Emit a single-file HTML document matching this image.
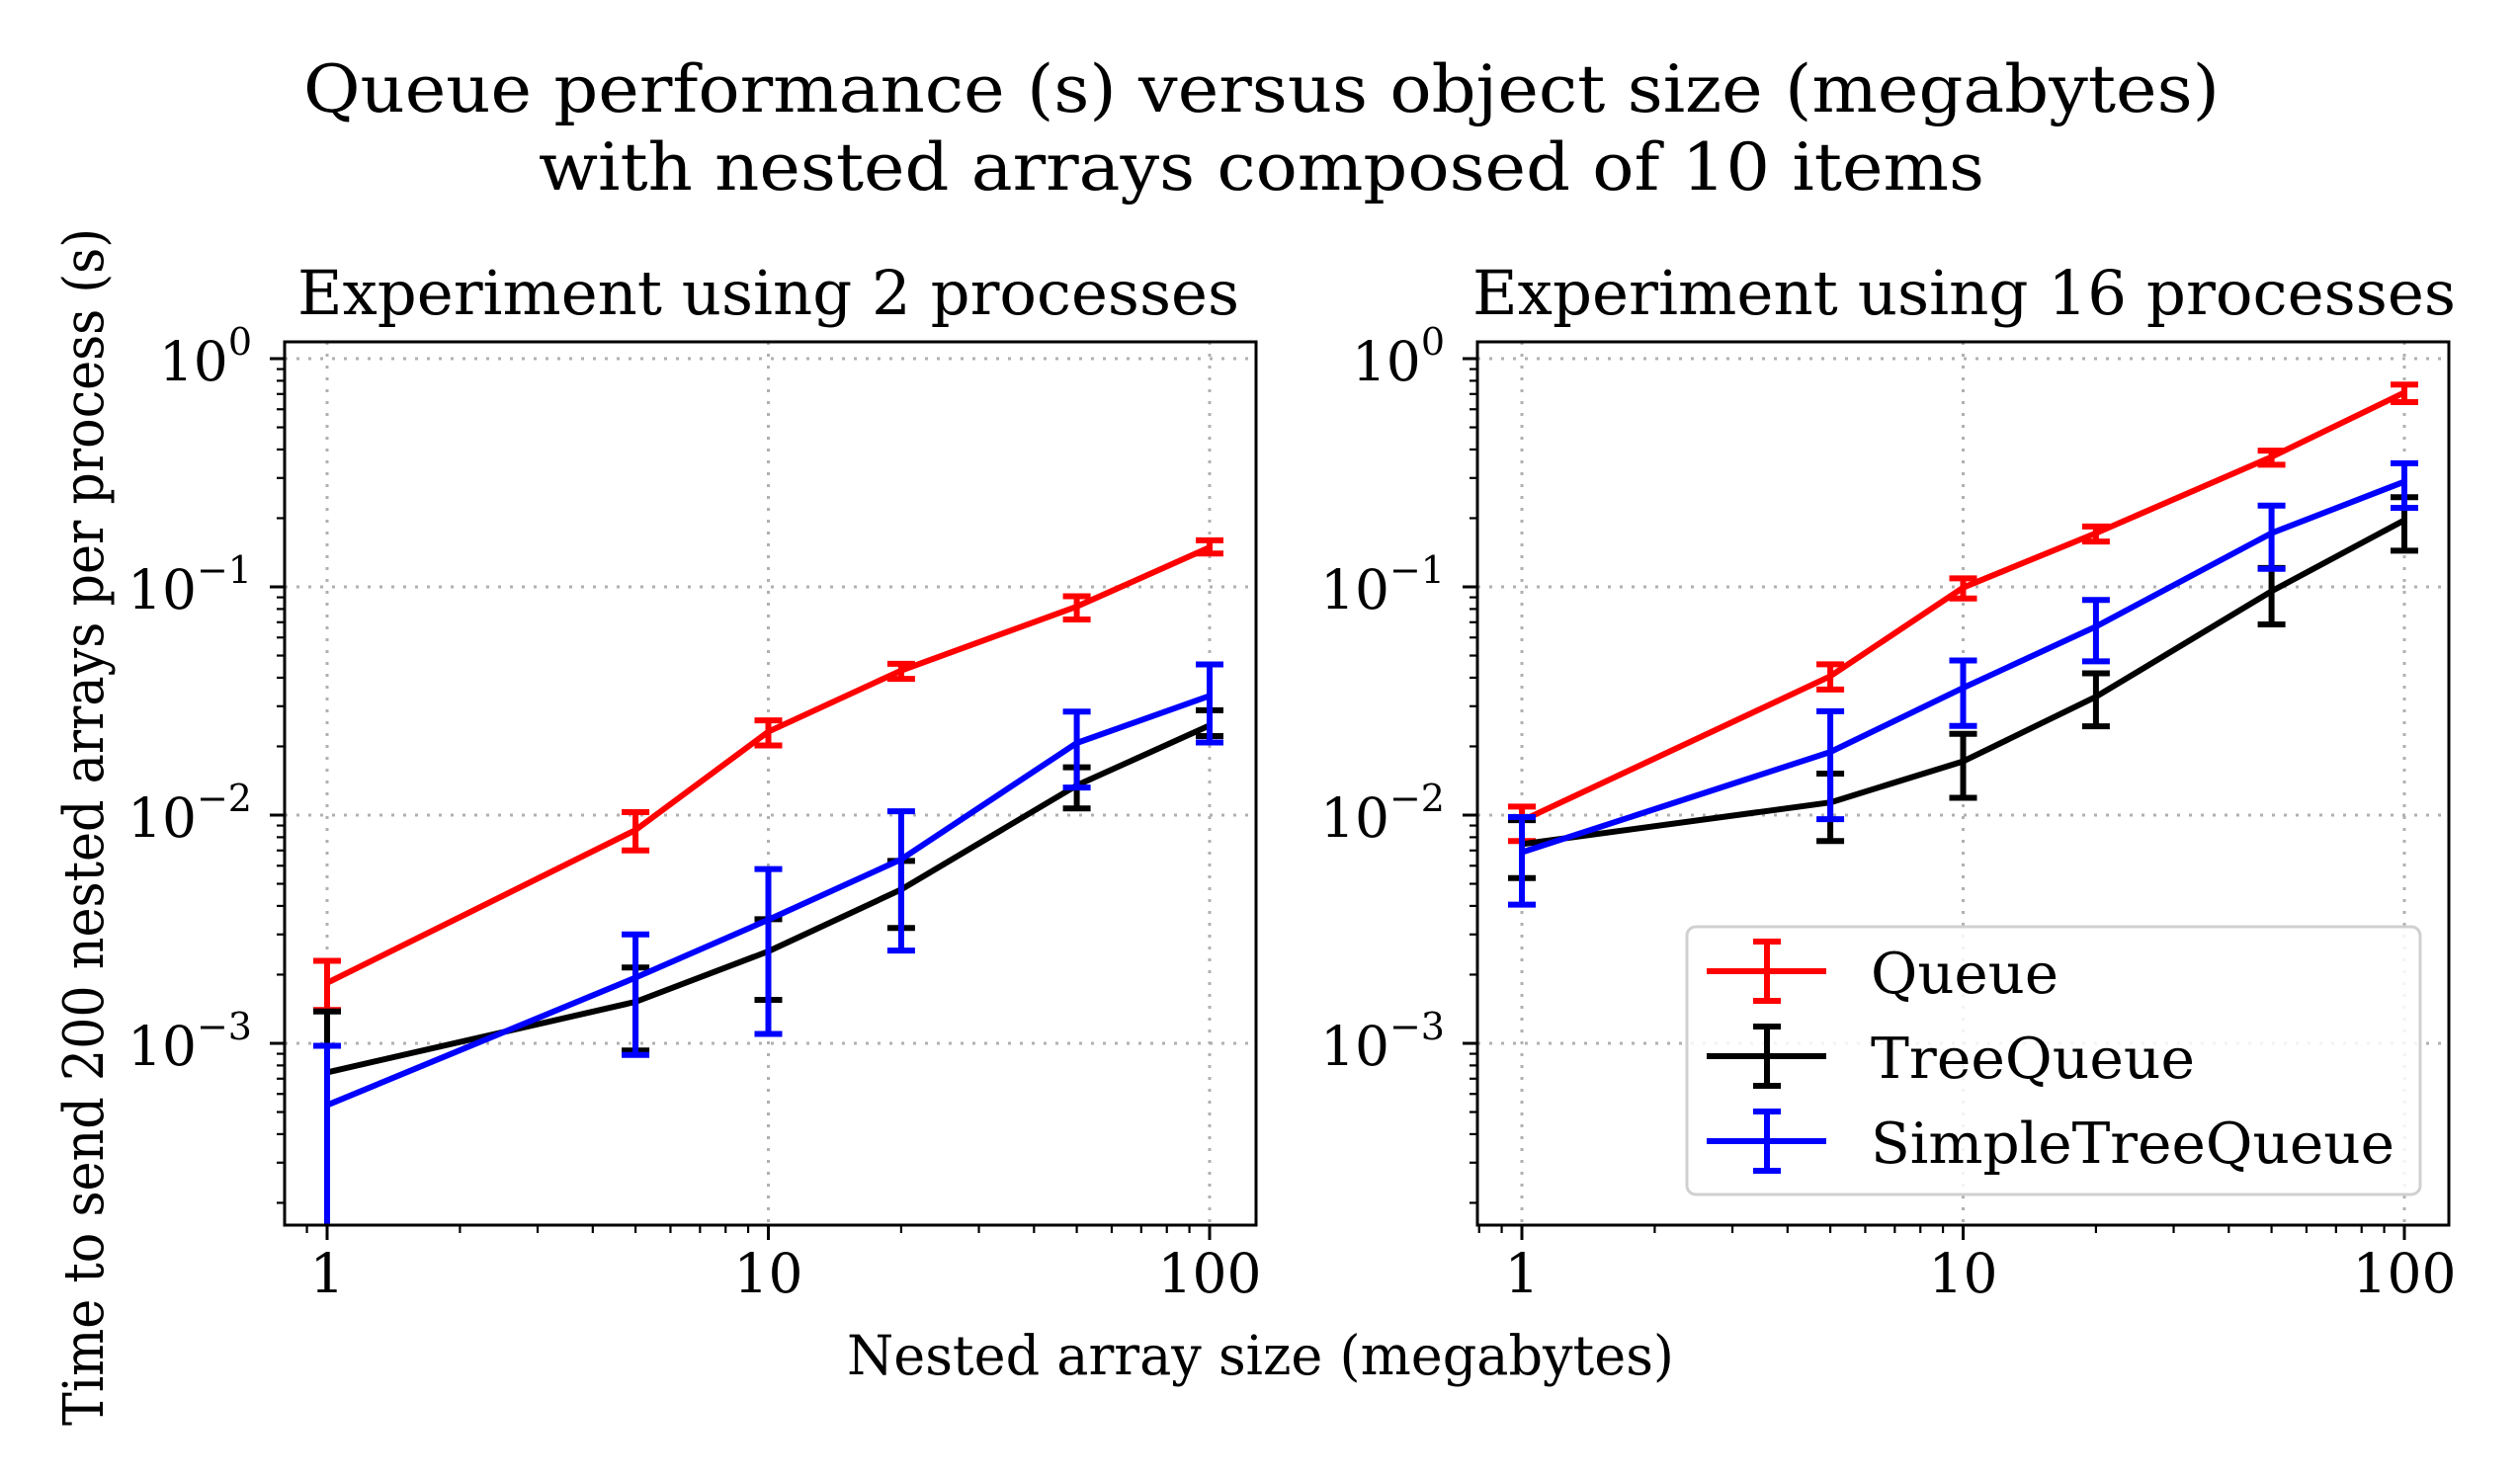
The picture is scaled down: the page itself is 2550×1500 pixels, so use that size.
<!DOCTYPE html>
<html><head><meta charset="utf-8"><style>
html,body{margin:0;padding:0;background:#fff;}
svg{display:block;font-family:"DejaVu Serif","Liberation Serif",serif;}
</style></head><body>
<svg id="chart" width="2550" height="1500" viewBox="0 0 2550 1500" xmlns="http://www.w3.org/2000/svg">
<rect width="2550" height="1500" fill="#fff"/>
<text x="307" y="113" font-size="66" textLength="1939" lengthAdjust="spacingAndGlyphs">Queue performance (s) versus object size (megabytes)</text>
<text x="545" y="192" font-size="66" textLength="1463" lengthAdjust="spacingAndGlyphs">with nested arrays composed of 10 items</text>
<text x="857" y="1391" font-size="55" textLength="837" lengthAdjust="spacingAndGlyphs">Nested array size (megabytes)</text>
<text transform="translate(104,1443) rotate(-90)" font-size="56" textLength="1212" lengthAdjust="spacingAndGlyphs">Time to send 200 nested arrays per process (s)</text>
<g id="p0"></g><g id="p1"></g>
</svg>
<script>
const sizes = [1, 5, 10, 20, 50, 100];
const seriesNames = ['Queue', 'TreeQueue', 'SimpleTreeQueue'];
const seriesColors = ['#ff0000', '#000000', '#0000ff'];
// panel 0: 2 processes
const p0Queue = [0.00184, 0.0086, 0.0232, 0.043, 0.082, 0.149];
const p0QueueHi = [0.0023, 0.0103, 0.026, 0.046, 0.091, 0.16];
const p0QueueLo = [0.0014, 0.0070, 0.0202, 0.0395, 0.072, 0.14];
const p0Tree = [0.000746, 0.00152, 0.00253, 0.00472, 0.0135, 0.0247];
const p0TreeHi = [0.00138, 0.00215, 0.0035, 0.0063, 0.0162, 0.0288];
const p0TreeLo = [0.00011, 0.00093, 0.00155, 0.0032, 0.0107, 0.0222];
const p0Simple = [0.000536, 0.00194, 0.00348, 0.0064, 0.0207, 0.0333];
const p0SimpleHi = [0.000975, 0.0030, 0.0058, 0.0104, 0.0284, 0.0457];
const p0SimpleLo = [0.0001, 0.00089, 0.0011, 0.00255, 0.0132, 0.0208];
// panel 1: 16 processes
const p1Queue = [0.00945, 0.0406, 0.0993, 0.172, 0.371, 0.71];
const p1QueueHi = [0.0109, 0.0458, 0.109, 0.184, 0.395, 0.77];
const p1QueueLo = [0.0077, 0.0355, 0.089, 0.158, 0.343, 0.645];
const p1Tree = [0.00746, 0.01136, 0.0172, 0.033, 0.0957, 0.196];
const p1TreeHi = [0.0095, 0.0152, 0.0227, 0.0418, 0.121, 0.247];
const p1TreeLo = [0.0053, 0.0077, 0.0119, 0.0245, 0.0685, 0.144];
const p1Simple = [0.00687, 0.0189, 0.0361, 0.067, 0.172, 0.289];
const p1SimpleHi = [0.0098, 0.0285, 0.0476, 0.0876, 0.227, 0.348];
const p1SimpleLo = [0.00405, 0.0096, 0.0246, 0.0472, 0.12, 0.222];
const xTickLabels = ['1', '10', '100'];
const yTickExps = ['0', '\u22121', '\u22122', '\u22123'];
const panelTitles = ['Experiment using 2 processes', 'Experiment using 16 processes'];

const NS = 'http://www.w3.org/2000/svg';
function mk(parent, tag, attrs) {
  const e = document.createElementNS(NS, tag);
  for (const k in attrs) e.setAttribute(k, attrs[k]);
  parent.appendChild(e);
  return e;
}
const panels = [
  {g: 'p0', left: 288, x1: 331, series: [[p0Queue,p0QueueHi,p0QueueLo],[p0Tree,p0TreeHi,p0TreeLo],[p0Simple,p0SimpleHi,p0SimpleLo]], tx: 301, tw: 953},
  {g: 'p1', left: 1495, x1: 1540, series: [[p1Queue,p1QueueHi,p1QueueLo],[p1Tree,p1TreeHi,p1TreeLo],[p1Simple,p1SimpleHi,p1SimpleLo]], tx: 1490, tw: 995}
];
const W = 983, TOP = 346, BOT = 1240, DEC = 446.5, Y0 = 363, YDEC = 231;
panels.forEach((p, pi) => {
  const g = document.getElementById(p.g);
  const X = v => p.x1 + Math.log10(v) * DEC;
  const Y = v => Y0 - Math.log10(v) * YDEC;
  const R = p.left + W;
  const clipId = 'clip' + pi;
  const cp = mk(mk(g, 'defs', {}), 'clipPath', {id: clipId});
  mk(cp, 'rect', {x: p.left, y: TOP, width: W, height: BOT - TOP});
  const t = mk(g, 'text', {x: p.tx, y: 318, 'font-size': 62, textLength: p.tw, lengthAdjust: 'spacingAndGlyphs'});
  t.textContent = panelTitles[pi];
  
  
  const grid = mk(g, 'g', {stroke: '#b0b0b0', 'stroke-width': 3, 'stroke-dasharray': '3,9'});
  
  
  [1, 10, 100].forEach(v => mk(grid, 'line', {x1: X(v), x2: X(v), y1: TOP, y2: BOT}));
  [1, 0.1, 0.01, 0.001].forEach(v => mk(grid, 'line', {x1: p.left, x2: R, y1: Y(v), y2: Y(v)}));
  const ticks = mk(g, 'g', {stroke: '#000'});
  
  
  for (let d = -1; d <= 2; d++) for (let m = 1; m <= 9; m++) {
    const v = m * Math.pow(10, d); const x = X(v);
    if (x < p.left || x > R) continue;
    const major = m === 1;
    mk(ticks, 'line', {x1: x, x2: x, y1: BOT, y2: BOT + (major ? 15 : 8), 'stroke-width': major ? 3 : 2.2});
  }
  for (let d = -4; d <= 0; d++) for (let m = 1; m <= 9; m++) {
    const v = m * Math.pow(10, d); const y = Y(v);
    if (y < TOP || y > BOT) continue;
    const major = m === 1;
    mk(ticks, 'line', {x1: p.left, x2: p.left - (major ? 15 : 8), y1: y, y2: y, 'stroke-width': major ? 3 : 2.2});
  }
  xTickLabels.forEach((lab, i) => {
    const tt = mk(g, 'text', {x: X(Math.pow(10, i)), y: 1308, 'font-size': 55, 'text-anchor': 'middle'});
    tt.textContent = lab;
    
    
  });
  yTickExps.forEach((ex, i) => {
    const tt = mk(g, 'text', {x: p.left - 33, y: Y(Math.pow(10, -i)) + 22, 'font-size': 55, 'text-anchor': 'end'});
    
    
    const a = mk(tt, 'tspan', {}); a.textContent = '10';
    const b = mk(tt, 'tspan', {dy: -26, 'font-size': 38}); b.textContent = ex;
  });
  const sg = mk(g, 'g', {'clip-path': 'url(#' + clipId + ')'});
  p.series.forEach((s, si) => {
    const [vals, hi, lo] = s;
    const c = seriesColors[si];
    const grp = mk(sg, 'g', {stroke: c, fill: 'none'});
    
    
    mk(grp, 'polyline', {points: vals.map((v, i) => X(sizes[i]) + ',' + Y(v)).join(' '), 'stroke-width': 6, 'stroke-linejoin': 'round'});
    vals.forEach((v, i) => {
      const x = X(sizes[i]);
      const eb = mk(grp, 'g', {'stroke-width': 6});
      
      
      mk(eb, 'line', {x1: x, x2: x, y1: Y(hi[i]), y2: Y(lo[i])});
      mk(eb, 'line', {x1: x - 14, x2: x + 14, y1: Y(hi[i]), y2: Y(hi[i])});
      mk(eb, 'line', {x1: x - 14, x2: x + 14, y1: Y(lo[i]), y2: Y(lo[i])});
    });
  });
  const frame = mk(g, 'rect', {x: p.left, y: TOP, width: W, height: BOT - TOP, fill: 'none', stroke: '#000', 'stroke-width': 3});
  
  
  if (pi === 1) {
    const lg = mk(g, 'g', {});
    
    
    mk(lg, 'rect', {x: 1707, y: 938, width: 742, height: 271, rx: 9, fill: 'rgba(255,255,255,0.85)', stroke: '#d0d0d0', 'stroke-width': 3});
    const textW = [190, 328, 530];
    seriesNames.forEach((n, si) => {
      const cy = 983 + si * 86;
      const e = mk(lg, 'g', {stroke: seriesColors[si], 'stroke-width': 6});
      
      
      mk(e, 'line', {x1: 1727, x2: 1848, y1: cy, y2: cy});
      mk(e, 'line', {x1: 1788, x2: 1788, y1: cy - 30, y2: cy + 30});
      mk(e, 'line', {x1: 1774, x2: 1802, y1: cy - 30, y2: cy - 30});
      mk(e, 'line', {x1: 1774, x2: 1802, y1: cy + 30, y2: cy + 30});
      const tt = mk(e, 'text', {x: 1893, y: cy + 22, 'font-size': 57, stroke: 'none', fill: '#000', textLength: textW[si], lengthAdjust: 'spacingAndGlyphs'});
      tt.textContent = n;
    });
  }
});
</script>
</body></html>
